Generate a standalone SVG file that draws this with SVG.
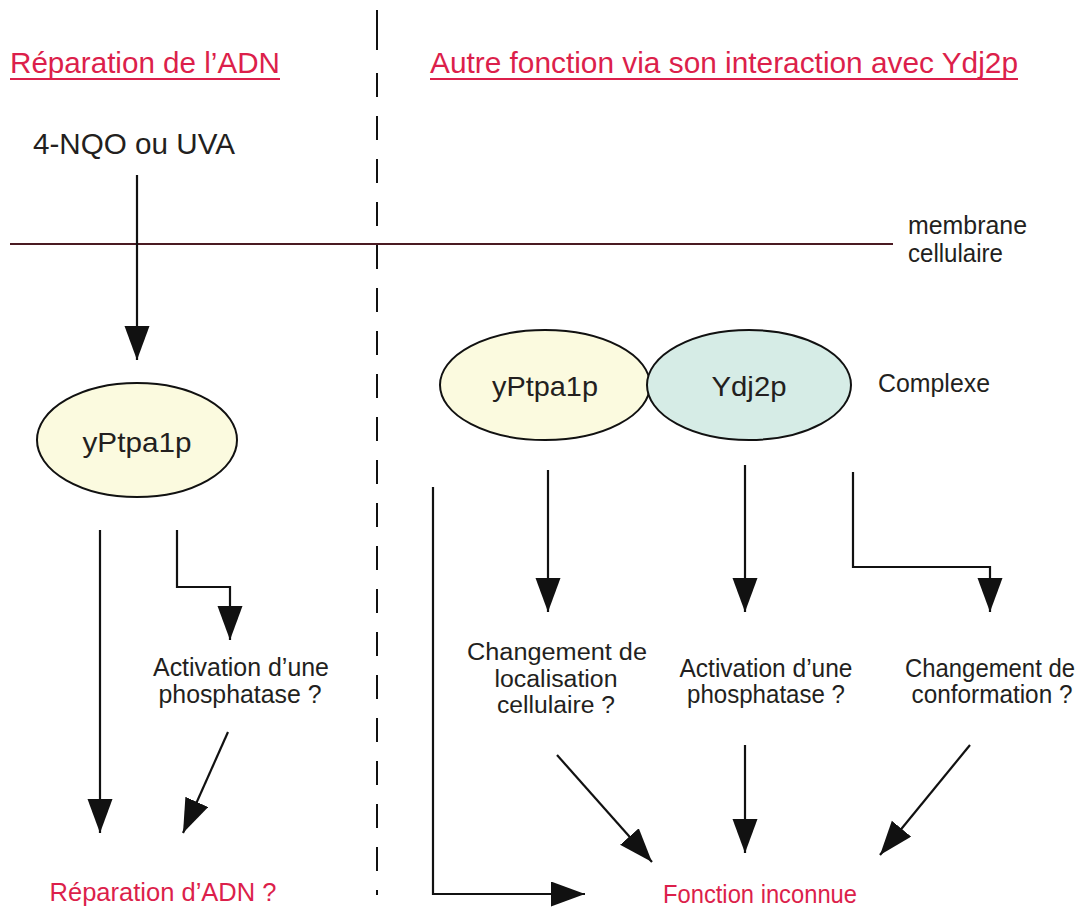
<svg xmlns="http://www.w3.org/2000/svg" width="1088" height="909" viewBox="0 0 1088 909">
<defs>
<marker id="ah" markerUnits="userSpaceOnUse" markerWidth="36" markerHeight="26" refX="34" refY="12.5" orient="auto">
<path d="M0,0 L34,12.5 L0,25 Z" fill="#111"/>
</marker>
<style>
text{font-family:"Liberation Sans",Arial,sans-serif;fill:#231f20}
.red{fill:#dc1f4b}
.t{font-size:30px}
.n{font-size:25px}
.s{font-size:23px}
.e{font-size:28px}
.c{text-anchor:middle}
.arr{fill:none;stroke:#111;stroke-width:2.2;marker-end:url(#ah)}
</style>
</defs>
<rect width="1088" height="909" fill="#fff"/>
<g id="divider" stroke="#111" stroke-width="2">
<line x1="377" y1="10" x2="377" y2="50"/>
<line x1="377" y1="73" x2="377" y2="895" stroke-dasharray="24,19"/>
</g>
<g id="titles">
<text x="10" y="73" class="t red" textLength="270" lengthAdjust="spacingAndGlyphs">Réparation de l’ADN</text>
<line x1="10" y1="79" x2="280" y2="79" stroke="#dc1f4b" stroke-width="2"/>
<text x="430" y="73" class="t red" textLength="588" lengthAdjust="spacingAndGlyphs">Autre fonction via son interaction avec Ydj2p</text>
<line x1="430" y1="79" x2="1018" y2="79" stroke="#dc1f4b" stroke-width="2"/>
</g>
<g id="stimulus"><text x="33" y="154" class="t" textLength="202" lengthAdjust="spacingAndGlyphs">4-NQO ou UVA</text></g>
<g id="membrane">
<line x1="10" y1="244" x2="893" y2="244" stroke="#4a1a22" stroke-width="2"/>
<text x="908" y="234" class="n" textLength="119" lengthAdjust="spacingAndGlyphs">membrane</text>
<text x="908" y="262" class="n" textLength="95" lengthAdjust="spacingAndGlyphs">cellulaire</text>
</g>
<g id="node-left-yPtpa1p">
<ellipse cx="137" cy="440" rx="100" ry="57" fill="#fbfadf" stroke="#111" stroke-width="2"/>
<text x="137" y="452" class="e c" textLength="109" lengthAdjust="spacingAndGlyphs">yPtpa1p</text>
</g>
<g id="node-right-yPtpa1p">
<ellipse cx="545" cy="385" rx="105" ry="55" fill="#fbfadf" stroke="#111" stroke-width="2"/>
<text x="545" y="396" class="e c" textLength="106" lengthAdjust="spacingAndGlyphs">yPtpa1p</text>
</g>
<g id="node-Ydj2p">
<ellipse cx="749" cy="385" rx="102" ry="55" fill="#d6ece6" stroke="#111" stroke-width="2"/>
<text x="749" y="396" class="e c" textLength="75" lengthAdjust="spacingAndGlyphs">Ydj2p</text>
</g>
<g id="label-complexe"><text x="878" y="392" class="n" textLength="112" lengthAdjust="spacingAndGlyphs">Complexe</text></g>
<g id="left-labels">
<text x="241" y="676" class="n c" textLength="176" lengthAdjust="spacingAndGlyphs">Activation d’une</text>
<text x="240" y="703" class="n c" textLength="163" lengthAdjust="spacingAndGlyphs">phosphatase ?</text>
<text x="163" y="901" class="n c red" textLength="227" lengthAdjust="spacingAndGlyphs">Réparation d’ADN ?</text>
</g>
<g id="right-labels">
<text x="557" y="660" class="s c" textLength="180" lengthAdjust="spacingAndGlyphs">Changement de</text>
<text x="556" y="687" class="s c" textLength="123" lengthAdjust="spacingAndGlyphs">localisation</text>
<text x="556" y="713" class="s c" textLength="118" lengthAdjust="spacingAndGlyphs">cellulaire ?</text>
<text x="766" y="677" class="n c" textLength="173" lengthAdjust="spacingAndGlyphs">Activation d’une</text>
<text x="766" y="703" class="n c" textLength="158" lengthAdjust="spacingAndGlyphs">phosphatase ?</text>
<text x="990" y="677" class="n c" textLength="170" lengthAdjust="spacingAndGlyphs">Changement de</text>
<text x="992" y="703" class="n c" textLength="161" lengthAdjust="spacingAndGlyphs">conformation ?</text>
<text x="760" y="903" class="n c red" textLength="194" lengthAdjust="spacingAndGlyphs">Fonction inconnue</text>
</g>
<g id="connectors">
<line x1="137" y1="175" x2="137" y2="360" class="arr"/>
<line x1="100" y1="530" x2="100" y2="833" class="arr"/>
<polyline points="177,530 177,587 230,587 230,640" class="arr"/>
<line x1="228" y1="732" x2="183" y2="833" class="arr"/>
<line x1="548" y1="470" x2="548" y2="612" class="arr"/>
<line x1="745" y1="465" x2="745" y2="612" class="arr"/>
<polyline points="853,472 853,567 990,567 990,612" class="arr"/>
<polyline points="433,487 433,894 585,894" class="arr"/>
<line x1="557" y1="755" x2="652" y2="862" class="arr"/>
<line x1="745" y1="745" x2="745" y2="853" class="arr"/>
<line x1="970" y1="745" x2="880" y2="855" class="arr"/>
</g>
</svg>
